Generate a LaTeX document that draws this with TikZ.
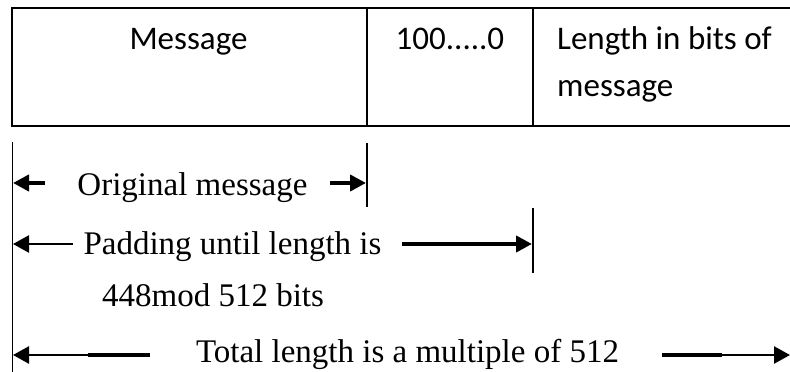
\documentclass[tikz,border=0pt]{standalone}
\usepackage{fontspec}
\setmainfont{Liberation Serif}
\newfontfamily\calibri{Carlito}
\usetikzlibrary{arrows.meta}
\begin{document}
\begin{tikzpicture}[x=1pt,y=1pt,
  boxtext/.style={font=\calibri\fontsize{33}{39}\selectfont, inner sep=0pt, anchor=base},
  serif/.style={font=\fontsize{33}{39}\selectfont, inner sep=0pt, anchor=base},
  frame/.style={line width=2pt},
  divider/.style={line width=1.6pt},
  tick/.style={line width=1.6pt},
  thickarr/.style={line width=4pt, -{Triangle[length=16pt,width=16pt]}},
  thinarr/.style={line width=2.5pt, -{Triangle[length=16pt,width=17pt]}},
  thickseg/.style={line width=4pt},
  thinseg/.style={line width=2.5pt}]
\useasboundingbox (0,0) rectangle (790,372);
\fill[white] (0,0) rectangle (790,372);
% box
\draw[frame] (795,364) -- (12,364) -- (12,246) -- (795,246);
\coordinate (d1t) at (367,364); \coordinate (d1b) at (367,246);
\coordinate (d2t) at (533,364); \coordinate (d2b) at (533,246);
\draw[divider] (d1t) -- (d1b);
\draw[divider] (d2t) -- (d2b);
\node[boxtext] (msg) at (188.5,322) {Message};
\node[boxtext] (pad) at (450,322) {100.....0};
\node[boxtext, anchor=base west] (len1) at (557,322) {Length in bits of};
\node[boxtext, anchor=base west] (len2) at (557,275) {message};
% tick lines
\coordinate (lt) at (12.5,230); \coordinate (lb) at (12.5,0);
\coordinate (m1t) at (367,229); \coordinate (m1b) at (367,165);
\coordinate (m2t) at (533,164); \coordinate (m2b) at (533,99);
\draw[tick] (lt) -- (lb);
\draw[tick] (m1t) -- (m1b);
\draw[tick] (m2t) -- (m2b);
% Original message
\node[serif] (orig) at (192.5,176) {Original message};
\coordinate (o1s) at (45,189); \coordinate (o1e) at (13,189);
\coordinate (o2s) at (330,189); \coordinate (o2e) at (366,189);
\draw[thickarr] (o1s) -- (o1e);
\draw[thickarr] (o2s) -- (o2e);
% Padding
\node[serif] (padtxt) at (232.5,117) {Padding until length is};
\node[serif] (modtxt) at (213,65) {448mod 512 bits};
\coordinate (p1s) at (73,128); \coordinate (p1e) at (13,128);
\coordinate (p2s) at (402,128); \coordinate (p2e) at (532,128);
\draw[thinarr] (p1s) -- (p1e);
\draw[thickarr] (p2s) -- (p2e);
% Total
\node[serif] (total) at (407.5,9) {Total length is a multiple of 512};
\coordinate (t1s) at (150,17); \coordinate (t1m) at (88,17); \coordinate (t1e) at (13,17);
\coordinate (t2s) at (662,17); \coordinate (t2m) at (722,17); \coordinate (t2e) at (790,17);
\draw[thickseg] (t1s) -- (t1m);
\draw[thinarr] (t1m) -- (t1e);
\draw[thickseg] (t2s) -- (t2m);
\draw[thinarr] (t2m) -- (t2e);
\end{tikzpicture}
\end{document}
